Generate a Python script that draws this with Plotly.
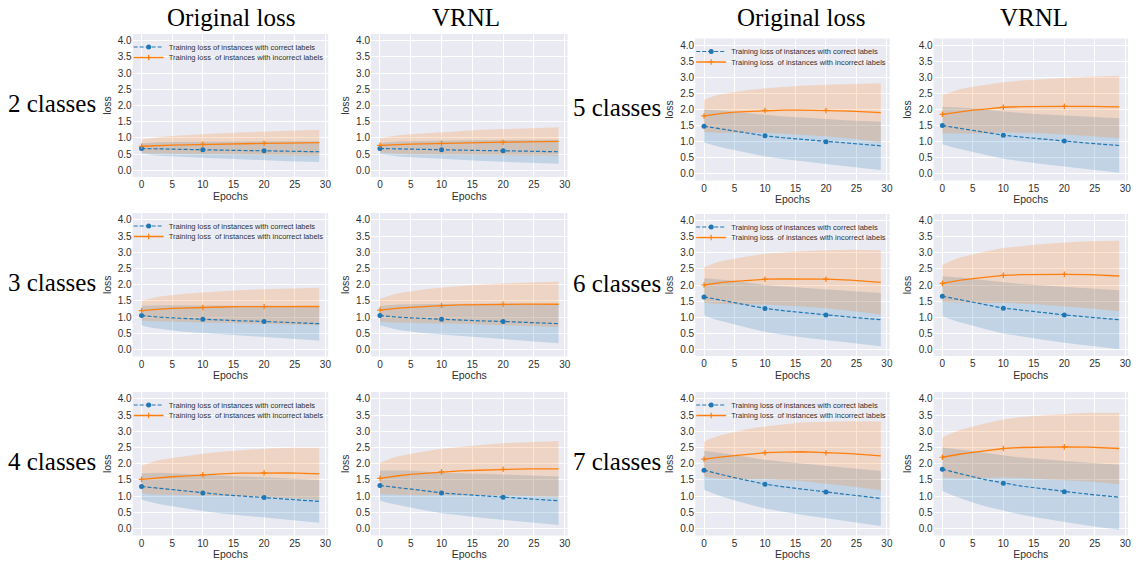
import plotly.graph_objects as go

W, H = 1139, 564

# ---------------- data ----------------
epochs = [0, 1, 2, 3, 5, 7, 10, 13, 16, 20, 24, 29]
marker_epochs = [0, 10, 20]
x_ticks = [0, 5, 10, 15, 20, 25, 30]
y_ticks = [0.0, 0.5, 1.0, 1.5, 2.0, 2.5, 3.0, 3.5, 4.0]

column_titles = ["Original loss", "VRNL", "Original loss", "VRNL"]
row_labels_left = ["2 classes", "3 classes", "4 classes"]
row_labels_right = ["5 classes", "6 classes", "7 classes"]
legend_correct = "Training loss of instances with correct labels"
legend_incorrect = "Training loss  of instances with incorrect labels"

# 2 classes
orig2_correct_mean = [0.67, 0.665, 0.66, 0.655, 0.645, 0.64, 0.63, 0.62, 0.61, 0.60, 0.585, 0.57]
orig2_correct_std = [0.16, 0.18, 0.195, 0.21, 0.225, 0.235, 0.25, 0.265, 0.28, 0.295, 0.31, 0.32]
orig2_incorrect_mean = [0.74, 0.75, 0.76, 0.765, 0.775, 0.785, 0.80, 0.81, 0.82, 0.83, 0.84, 0.85]
orig2_incorrect_std = [0.20, 0.225, 0.245, 0.26, 0.28, 0.295, 0.315, 0.33, 0.345, 0.365, 0.38, 0.40]
vrnl2_correct_mean = [0.67, 0.665, 0.66, 0.655, 0.645, 0.64, 0.63, 0.62, 0.61, 0.60, 0.585, 0.57]
vrnl2_correct_std = [0.17, 0.195, 0.215, 0.23, 0.25, 0.265, 0.285, 0.30, 0.32, 0.335, 0.355, 0.37]
vrnl2_incorrect_mean = [0.77, 0.78, 0.79, 0.795, 0.805, 0.815, 0.83, 0.845, 0.855, 0.865, 0.875, 0.89]
vrnl2_incorrect_std = [0.22, 0.245, 0.27, 0.285, 0.31, 0.325, 0.345, 0.365, 0.385, 0.405, 0.42, 0.44]

# 3 classes
orig3_correct_mean = [1.05, 1.03, 1.02, 1.00, 0.98, 0.96, 0.94, 0.91, 0.89, 0.87, 0.84, 0.80]
orig3_correct_std = [0.30, 0.33, 0.35, 0.37, 0.39, 0.405, 0.43, 0.445, 0.465, 0.485, 0.50, 0.52]
orig3_incorrect_mean = [1.20, 1.22, 1.24, 1.25, 1.27, 1.285, 1.30, 1.315, 1.325, 1.33, 1.335, 1.33]
orig3_incorrect_std = [0.30, 0.335, 0.36, 0.385, 0.41, 0.435, 0.46, 0.485, 0.505, 0.53, 0.555, 0.58]
vrnl3_correct_mean = [1.05, 1.03, 1.02, 1.00, 0.98, 0.96, 0.94, 0.91, 0.89, 0.87, 0.84, 0.80]
vrnl3_correct_std = [0.30, 0.335, 0.365, 0.39, 0.42, 0.445, 0.475, 0.50, 0.52, 0.55, 0.575, 0.60]
vrnl3_incorrect_mean = [1.22, 1.245, 1.265, 1.28, 1.305, 1.33, 1.36, 1.38, 1.39, 1.40, 1.405, 1.40]
vrnl3_incorrect_std = [0.35, 0.39, 0.425, 0.455, 0.49, 0.52, 0.555, 0.585, 0.61, 0.64, 0.67, 0.70]

# 4 classes
orig4_correct_mean = [1.30, 1.28, 1.26, 1.24, 1.20, 1.16, 1.10, 1.05, 1.01, 0.96, 0.91, 0.84]
orig4_correct_std = [0.41, 0.44, 0.465, 0.485, 0.51, 0.53, 0.555, 0.58, 0.60, 0.625, 0.645, 0.66]
orig4_incorrect_mean = [1.52, 1.54, 1.56, 1.58, 1.60, 1.62, 1.66, 1.69, 1.71, 1.72, 1.72, 1.69]
orig4_incorrect_std = [0.42, 0.47, 0.51, 0.54, 0.58, 0.61, 0.65, 0.68, 0.71, 0.745, 0.775, 0.80]
vrnl4_correct_mean = [1.33, 1.30, 1.28, 1.26, 1.22, 1.17, 1.10, 1.06, 1.02, 0.97, 0.92, 0.86]
vrnl4_correct_std = [0.46, 0.49, 0.515, 0.54, 0.57, 0.595, 0.625, 0.65, 0.675, 0.70, 0.725, 0.75]
vrnl4_incorrect_mean = [1.55, 1.58, 1.61, 1.63, 1.67, 1.70, 1.75, 1.78, 1.80, 1.83, 1.84, 1.84]
vrnl4_incorrect_std = [0.48, 0.53, 0.57, 0.60, 0.64, 0.67, 0.71, 0.74, 0.77, 0.80, 0.83, 0.86]

# 5 classes
orig5_correct_mean = [1.48, 1.45, 1.42, 1.39, 1.33, 1.27, 1.18, 1.12, 1.07, 1.00, 0.94, 0.87]
orig5_correct_std = [0.51, 0.54, 0.56, 0.575, 0.60, 0.62, 0.64, 0.66, 0.68, 0.70, 0.72, 0.75]
orig5_incorrect_mean = [1.80, 1.83, 1.86, 1.88, 1.92, 1.94, 1.97, 1.98, 1.98, 1.97, 1.95, 1.90]
orig5_incorrect_std = [0.50, 0.55, 0.58, 0.60, 0.63, 0.66, 0.69, 0.73, 0.76, 0.80, 0.85, 0.92]
vrnl5_correct_mean = [1.50, 1.47, 1.44, 1.41, 1.35, 1.29, 1.20, 1.14, 1.08, 1.02, 0.95, 0.88]
vrnl5_correct_std = [0.58, 0.61, 0.63, 0.65, 0.68, 0.70, 0.73, 0.75, 0.77, 0.80, 0.82, 0.85]
vrnl5_incorrect_mean = [1.85, 1.88, 1.91, 1.94, 1.98, 2.01, 2.07, 2.09, 2.10, 2.10, 2.10, 2.08]
vrnl5_incorrect_std = [0.60, 0.64, 0.67, 0.70, 0.73, 0.76, 0.78, 0.81, 0.84, 0.88, 0.92, 0.97]

# 6 classes
orig6_correct_mean = [1.63, 1.59, 1.55, 1.51, 1.45, 1.38, 1.27, 1.20, 1.14, 1.07, 1.00, 0.92]
orig6_correct_std = [0.58, 0.61, 0.63, 0.65, 0.68, 0.70, 0.73, 0.75, 0.77, 0.79, 0.81, 0.83]
orig6_incorrect_mean = [2.00, 2.03, 2.06, 2.08, 2.11, 2.14, 2.18, 2.19, 2.19, 2.18, 2.15, 2.08]
orig6_incorrect_std = [0.55, 0.60, 0.64, 0.67, 0.72, 0.75, 0.79, 0.83, 0.86, 0.90, 0.95, 1.00]
vrnl6_correct_mean = [1.65, 1.61, 1.57, 1.53, 1.46, 1.39, 1.28, 1.21, 1.15, 1.07, 1.00, 0.92]
vrnl6_correct_std = [0.62, 0.65, 0.68, 0.70, 0.73, 0.76, 0.79, 0.82, 0.84, 0.87, 0.90, 0.92]
vrnl6_incorrect_mean = [2.05, 2.09, 2.12, 2.15, 2.20, 2.24, 2.30, 2.32, 2.33, 2.33, 2.32, 2.28]
vrnl6_incorrect_std = [0.58, 0.63, 0.67, 0.71, 0.76, 0.80, 0.85, 0.90, 0.94, 0.99, 1.04, 1.10]

# 7 classes
orig7_correct_mean = [1.80, 1.75, 1.70, 1.65, 1.57, 1.49, 1.37, 1.29, 1.22, 1.13, 1.04, 0.93]
orig7_correct_std = [0.60, 0.63, 0.65, 0.67, 0.70, 0.72, 0.75, 0.77, 0.79, 0.81, 0.83, 0.85]
orig7_incorrect_mean = [2.14, 2.17, 2.19, 2.21, 2.25, 2.29, 2.34, 2.36, 2.37, 2.34, 2.31, 2.24]
orig7_incorrect_std = [0.54, 0.60, 0.64, 0.68, 0.73, 0.77, 0.81, 0.86, 0.90, 0.95, 1.00, 1.06]
vrnl7_correct_mean = [1.83, 1.78, 1.73, 1.68, 1.60, 1.51, 1.40, 1.31, 1.24, 1.14, 1.06, 0.97]
vrnl7_correct_std = [0.67, 0.70, 0.73, 0.75, 0.79, 0.82, 0.85, 0.88, 0.91, 0.94, 0.97, 1.00]
vrnl7_incorrect_mean = [2.20, 2.24, 2.27, 2.30, 2.35, 2.40, 2.47, 2.50, 2.51, 2.52, 2.51, 2.47]
vrnl7_incorrect_std = [0.62, 0.67, 0.71, 0.75, 0.80, 0.84, 0.89, 0.94, 0.98, 1.02, 1.06, 1.10]

# ---------------- layout helpers ----------------
def fx(px):
    return px / W


def fy(py):
    return 1 - py / H


BLUE = "#1f77b4"
ORANGE = "#ff7f0e"
BLUE_FILL = "rgba(31,119,180,0.2)"
ORANGE_FILL = "rgba(255,127,14,0.2)"
BG = "#EAEAF2"
TXT = "#303030"
SANS = "Liberation Sans, Arial, sans-serif"
SERIF = "Liberation Serif, Times New Roman, serif"

col_px = [(133, 329), (372, 569), (697, 892), (936, 1131)]
rows_left_px = [(34, 177), (213, 356.5), (392, 535.5)]
rows_right_px = [(38.5, 180.5), (214, 356), (392, 535.5)]
title_centers_px = [232, 467, 803, 1037]

panels = [
    # (col, row, correct_mean, correct_std, incorrect_mean, incorrect_std, has_legend)
    (0, 0, orig2_correct_mean, orig2_correct_std, orig2_incorrect_mean, orig2_incorrect_std, True),
    (1, 0, vrnl2_correct_mean, vrnl2_correct_std, vrnl2_incorrect_mean, vrnl2_incorrect_std, False),
    (0, 1, orig3_correct_mean, orig3_correct_std, orig3_incorrect_mean, orig3_incorrect_std, True),
    (1, 1, vrnl3_correct_mean, vrnl3_correct_std, vrnl3_incorrect_mean, vrnl3_incorrect_std, False),
    (0, 2, orig4_correct_mean, orig4_correct_std, orig4_incorrect_mean, orig4_incorrect_std, True),
    (1, 2, vrnl4_correct_mean, vrnl4_correct_std, vrnl4_incorrect_mean, vrnl4_incorrect_std, False),
    (2, 0, orig5_correct_mean, orig5_correct_std, orig5_incorrect_mean, orig5_incorrect_std, True),
    (3, 0, vrnl5_correct_mean, vrnl5_correct_std, vrnl5_incorrect_mean, vrnl5_incorrect_std, False),
    (2, 1, orig6_correct_mean, orig6_correct_std, orig6_incorrect_mean, orig6_incorrect_std, True),
    (3, 1, vrnl6_correct_mean, vrnl6_correct_std, vrnl6_incorrect_mean, vrnl6_incorrect_std, False),
    (2, 2, orig7_correct_mean, orig7_correct_std, orig7_incorrect_mean, orig7_incorrect_std, True),
    (3, 2, vrnl7_correct_mean, vrnl7_correct_std, vrnl7_incorrect_mean, vrnl7_incorrect_std, False),
]

fig = go.Figure()
layout = dict(
    width=W, height=H,
    margin=dict(l=0, r=0, t=0, b=0),
    paper_bgcolor="white",
    plot_bgcolor=BG,
    showlegend=True,
    annotations=[],
)

legend_count = 0
marker_idx = [epochs.index(e) for e in marker_epochs]
blue_marker = dict(color=BLUE, size=5, symbol="circle")
orange_marker = dict(color=ORANGE, size=4, symbol="cross-thin", line=dict(color=ORANGE, width=1.2))
blue_line = dict(color=BLUE, width=1.2, dash="4px,2px")
orange_line = dict(color=ORANGE, width=1.3)


def new_legend(x_px, top_px):
    global legend_count
    legend_count += 1
    lname = "legend" if legend_count == 1 else f"legend{legend_count}"
    layout[lname] = dict(
        x=fx(x_px), y=fy(top_px), xanchor="left", yanchor="top",
        bgcolor="rgba(0,0,0,0)", borderwidth=0,
        font=dict(family=SANS, size=7.5, color=TXT),
        itemwidth=30, tracegroupgap=0,
    )
    return lname


for i, (col, row, cm, cs, im, isd, has_leg) in enumerate(panels, start=1):
    xa = "x" if i == 1 else f"x{i}"
    ya = "y" if i == 1 else f"y{i}"
    x0, x1 = col_px[col]
    y0, y1 = (rows_left_px if col < 2 else rows_right_px)[row]

    axis_font = dict(family=SANS, size=10, color=TXT)
    layout["xaxis" if i == 1 else f"xaxis{i}"] = dict(
        domain=[fx(x0), fx(x1)], anchor=ya, range=[-1.45, 30.45],
        tickvals=x_ticks, ticks="", showline=False, zeroline=False,
        gridcolor="white", gridwidth=1, tickfont=axis_font,
        title=dict(text="Epochs", font=dict(family=SANS, size=10.5, color=TXT), standoff=2),
    )
    layout["yaxis" if i == 1 else f"yaxis{i}"] = dict(
        domain=[fy(y1), fy(y0)], anchor=xa, range=[-0.21, 4.21],
        tickvals=y_ticks, tickformat=".1f", ticks="", showline=False, zeroline=False,
        gridcolor="white", gridwidth=1, tickfont=axis_font,
        title=dict(text="loss", font=dict(family=SANS, size=10.5, color=TXT), standoff=4),
    )

    c_up = [m + s for m, s in zip(cm, cs)]
    c_lo = [m - s for m, s in zip(cm, cs)]
    i_up = [m + s for m, s in zip(im, isd)]
    i_lo = [m - s for m, s in zip(im, isd)]

    fig.add_trace(go.Scatter(
        x=epochs + epochs[::-1], y=c_up + c_lo[::-1], fill="toself",
        fillcolor=BLUE_FILL, line=dict(width=0), mode="lines",
        hoverinfo="skip", showlegend=False, xaxis=xa, yaxis=ya))
    fig.add_trace(go.Scatter(
        x=epochs + epochs[::-1], y=i_up + i_lo[::-1], fill="toself",
        fillcolor=ORANGE_FILL, line=dict(width=0), mode="lines",
        hoverinfo="skip", showlegend=False, xaxis=xa, yaxis=ya))
    fig.add_trace(go.Scatter(
        x=epochs, y=cm, mode="lines", line=blue_line,
        showlegend=False, xaxis=xa, yaxis=ya))
    fig.add_trace(go.Scatter(
        x=epochs, y=im, mode="lines", line=orange_line,
        showlegend=False, xaxis=xa, yaxis=ya))
    fig.add_trace(go.Scatter(
        x=[epochs[k] for k in marker_idx], y=[cm[k] for k in marker_idx], mode="markers",
        marker=blue_marker, showlegend=False, xaxis=xa, yaxis=ya))
    fig.add_trace(go.Scatter(
        x=[epochs[k] for k in marker_idx], y=[im[k] for k in marker_idx], mode="markers",
        marker=orange_marker, showlegend=False, xaxis=xa, yaxis=ya))

    if has_leg:
        l1 = new_legend(x0 - 4, y0 - 1.5)
        l2 = new_legend(x0 - 4, y0 + 9)
        fig.add_trace(go.Scatter(
            x=[None], y=[None], mode="lines+markers", name=legend_correct,
            line=blue_line, marker=blue_marker,
            legend=l1, xaxis=xa, yaxis=ya))
        fig.add_trace(go.Scatter(
            x=[None], y=[None], mode="lines+markers", name=legend_incorrect,
            line=orange_line, marker=orange_marker,
            legend=l2, xaxis=xa, yaxis=ya))

# column titles
for c, t in enumerate(column_titles):
    layout["annotations"].append(dict(
        text=t, x=fx(title_centers_px[c]), y=fy(17), xref="paper", yref="paper",
        xanchor="center", yanchor="middle", showarrow=False,
        font=dict(family=SERIF, size=25, color="black")))

# row labels
for r, t in enumerate(row_labels_left):
    yc = (rows_left_px[r][0] + rows_left_px[r][1]) / 2
    layout["annotations"].append(dict(
        text=t, x=fx(98), y=fy(yc - 2), xref="paper", yref="paper",
        xanchor="right", yanchor="middle", showarrow=False,
        font=dict(family=SERIF, size=25, color="black")))
for r, t in enumerate(row_labels_right):
    yc = (rows_right_px[r][0] + rows_right_px[r][1]) / 2
    layout["annotations"].append(dict(
        text=t, x=fx(665), y=fy(yc - 2), xref="paper", yref="paper",
        xanchor="right", yanchor="middle", showarrow=False,
        font=dict(family=SERIF, size=25, color="black")))

fig.update_layout(**layout)
fig.write_html("out.html", config={"displayModeBar": False},
               post_script="document.body.style.margin='0px';")
